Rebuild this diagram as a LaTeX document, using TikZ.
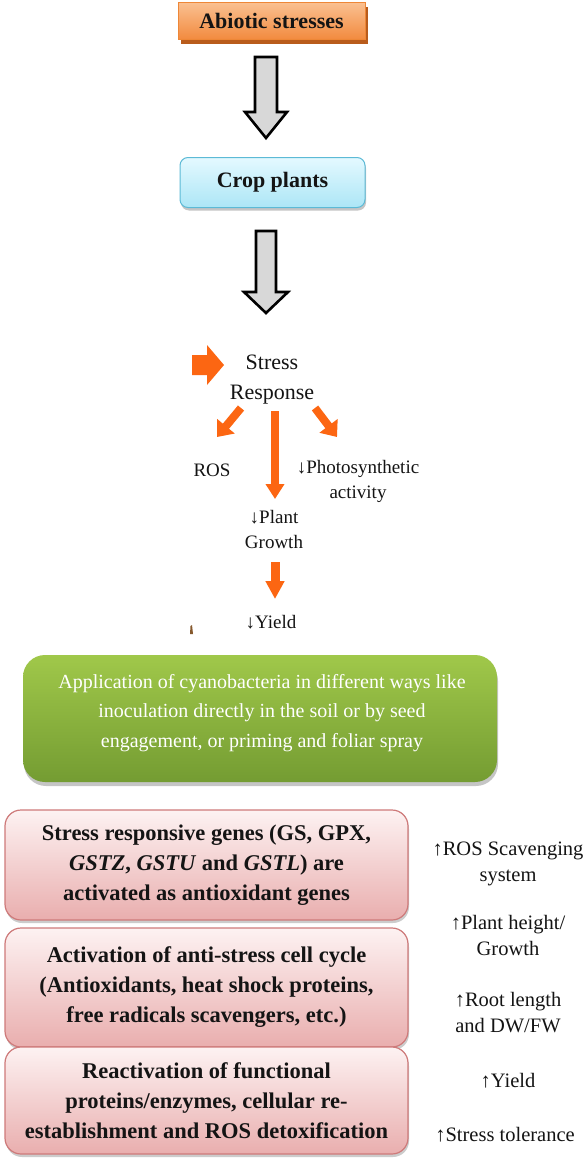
\documentclass[tikz,border=0pt]{standalone}
\usepackage{fontspec}
\setmainfont{Liberation Serif}
\usetikzlibrary{shadows,arrows.meta}
\definecolor{orA}{RGB}{250,192,145}
\definecolor{orB}{RGB}{242,138,62}
\definecolor{orLine}{RGB}{238,135,55}
\definecolor{orShadow}{RGB}{185,92,28}
\definecolor{cyA}{RGB}{228,249,255}
\definecolor{cyB}{RGB}{172,230,246}
\definecolor{cyLine}{RGB}{92,186,214}
\definecolor{grA}{RGB}{160,200,74}
\definecolor{grB}{RGB}{116,156,50}
\definecolor{pkA}{RGB}{253,242,242}
\definecolor{pkB}{RGB}{233,174,174}
\definecolor{pkLine}{RGB}{206,122,122}
\definecolor{hot}{RGB}{252,102,18}
\definecolor{arrFill}{RGB}{216,216,216}
\definecolor{ink}{RGB}{20,20,20}
\begin{document}
\begin{tikzpicture}[x=1pt,y=-1pt,
 abox/.style={draw=orLine, line width=1pt, top color=orA, bottom color=orB,
   drop shadow={shadow xshift=3pt,shadow yshift=-4pt,fill=orShadow,opacity=1},
   minimum width=187pt, minimum height=37pt, inner sep=0pt, text=ink,
   font=\fontsize{22}{26}\selectfont\bfseries},
 cbox/.style={draw=cyLine, line width=1pt, rounded corners=8pt, top color=cyA, bottom color=cyB,
   drop shadow={shadow xshift=1pt,shadow yshift=-3pt,fill=black!50,opacity=.45},
   minimum width=185pt, minimum height=50pt, inner sep=0pt, text=ink,
   font=\fontsize{22}{26}\selectfont\bfseries},
 gbox/.style={rounded corners=22pt, top color=grA, bottom color=grB,
   drop shadow={shadow xshift=1pt,shadow yshift=-4pt,fill=black!50,opacity=.45},
   minimum width=474pt, minimum height=127pt, inner sep=0pt, text=white},
 gtxt/.style={inner sep=0pt, align=center, text=white, font=\fontsize{20}{29.5}\selectfont},
 pbox/.style={draw=pkLine, line width=1.2pt, rounded corners=16pt, top color=pkA, bottom color=pkB,
   drop shadow={shadow xshift=1pt,shadow yshift=-3pt,fill=black!50,opacity=.4},
   minimum width=403pt, inner sep=0pt, align=center, text=ink,
   font=\fontsize{22.5}{30}\selectfont\bfseries},
 blk/.style={draw=black, line width=2.6pt, fill=arrFill, line join=miter},
 hotarr/.style={draw=hot, line width=8pt, -{Triangle[length=14pt,width=22pt]}},
 lbl/.style={inner sep=0pt, align=center, text=ink, font=\fontsize{19}{25}\selectfont},
 side/.style={inner sep=0pt, align=center, text=ink, font=\fontsize{20.5}{26}\selectfont}
]
\useasboundingbox (0,0) rectangle (582,1159);
\fill[white] (0,0) rectangle (582,1159);

% top boxes
\node[abox] (abiotic) at (271.5,21) {Abiotic stresses};
\node[cbox] (crop) at (272.5,182.5) {Crop plants};

% block arrows
\draw[blk] (255,57) -- (277,57) -- (277,112) -- (287,112) -- (266,138) -- (245,112) -- (255,112) -- cycle;
\draw[blk] (256,231) -- (276,231) -- (276,292) -- (288,292) -- (266,313) -- (244,292) -- (256,292) -- cycle;

% stress response
\node[lbl, font=\fontsize{22}{30}\selectfont] (sr) at (272,380) {Stress\\Response};
\fill[hot] (192,355) -- (207,355) -- (207,345) -- (224,365) -- (207,385) -- (207,375) -- (192,375) -- cycle;
\node[lbl] (ros) at (212,470) {ROS};
\node[lbl] (photo) at (358,481) {↓Photosynthetic\\activity};
\node[lbl] (growth) at (274,529) {↓Plant\\Growth};
\node[lbl] (yield) at (271,622) {↓Yield};

\coordinate (l0) at (241,408); \coordinate (l1) at (217,437);
\coordinate (r0) at (315,408); \coordinate (r1) at (337,437);
\coordinate (v0) at (275,411); \coordinate (v1) at (275,499);
\coordinate (w0) at (275,562); \coordinate (w1) at (275,599);
\draw[hotarr] (l0) -- (l1);
\draw[hotarr] (r0) -- (r1);
\draw[hotarr, -{Triangle[length=15pt,width=18pt]}] (v0) -- (v1);
\draw[hotarr, line width=9pt, -{Triangle[length=18pt,width=18pt]}] (w0) -- (w1);
\fill[brown!70!black] (190.5,626) -- (192,625) -- (193,634) -- (190,634) -- cycle;

% green box
\node[gbox] (cyano) at (260,718.5) {};
\node[gtxt] (cyanotxt) at (262,713) {Application of cyanobacteria in different ways like\\inoculation directly in the soil or by seed\\engagement, or priming and foliar spray};

% pink boxes
\node[pbox, minimum height=110pt] (genes) at (206.5,865) {Stress responsive genes (GS, GPX,\\\textit{GSTZ}, \textit{GSTU} and \textit{GSTL}) are\\activated as antioxidant genes};
\node[pbox, minimum height=119pt] (cycle) at (206.5,987.5) {Activation of anti-stress cell cycle\\(Antioxidants, heat shock proteins,\\free radicals scavengers, etc.)};
\node[pbox, minimum height=107pt] (react) at (206.5,1100.5) {Reactivation of functional\\proteins/enzymes, cellular re-\\establishment and ROS detoxification};

% right column
\node[side] (s1) at (508,864) {↑ROS Scavenging\\system};
\node[side] (s2) at (508,935) {↑Plant height/\\Growth};
\node[side] (s3) at (508,1013) {↑Root length\\and DW/FW};
\node[side] (s4) at (508,1081) {↑Yield};
\node[side] (s5) at (505,1135) {↑Stress tolerance};
\end{tikzpicture}
\end{document}
